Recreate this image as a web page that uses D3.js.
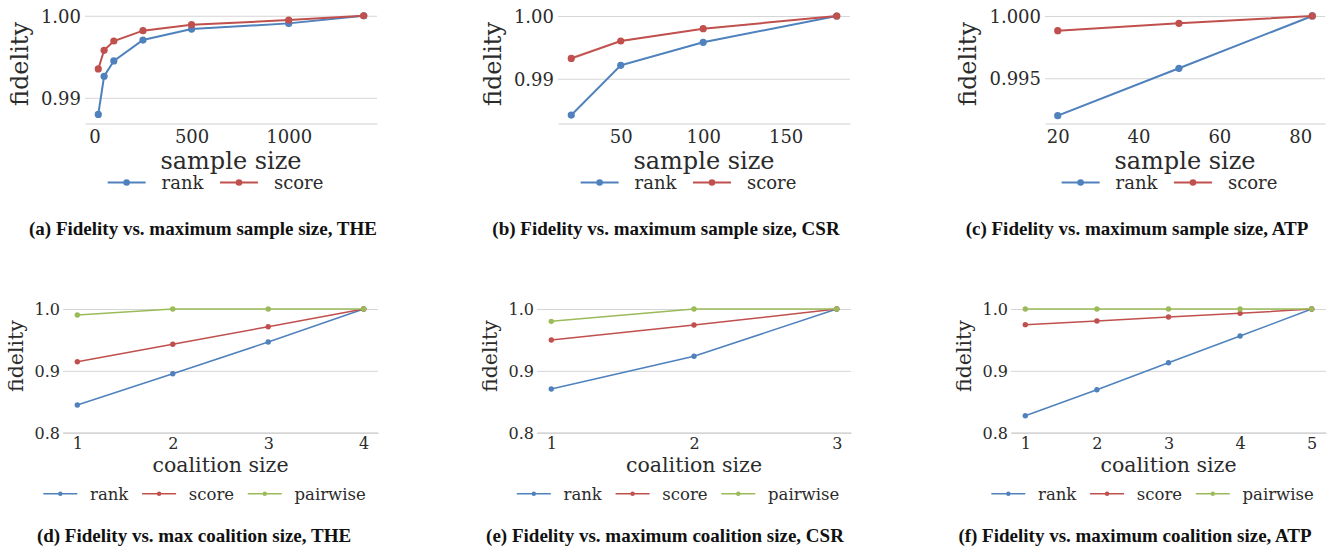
<!DOCTYPE html>
<meta charset="utf-8">
<head>
  <title>fidelity vs sample / coalition size</title>
</head>
<style>
  body { margin: 0; background: #fff; }
  text { font-family: "DejaVu Serif", "Liberation Serif", serif; fill: #2b2b2b; }
  .caption { font-family: "Liberation Serif", serif; font-weight: bold; fill: #111; }
</style>

<!-- Load d3.js -->
<script src="https://d3js.org/d3.v7.min.js"></script>

<div id="chart"></div>

<script>
  // ---- data ----
  // (a) THE, sample size
  var sampleTHE = [20, 50, 100, 250, 500, 1000, 1386];
  var rankTHE = [0.98798, 0.99263, 0.99449, 0.99704, 0.99838, 0.99907, 1.0];
  var scoreTHE = [0.99352, 0.99579, 0.99692, 0.99818, 0.99891, 0.99947, 1.0];
  var rankTHEci = [0.00012, 0.0001, 0.00008, 0.00006, 0.00004, 0.00003, 0];
  var scoreTHEci = [0.0001, 0.00008, 0.00006, 0.00004, 0.00003, 0.00002, 0];

  // (b) CSR, sample size
  var sampleCSR = [20, 50, 100, 181];
  var rankCSR = [0.98420, 0.99213, 0.99580, 1.0];
  var scoreCSR = [0.99324, 0.99601, 0.99798, 1.0];
  var rankCSRci = [0.0003, 0.0002, 0.00012, 0];
  var scoreCSRci = [0.0003, 0.00012, 0.00008, 0];

  // (c) ATP, sample size
  var sampleATP = [20, 50, 83];
  var rankATP = [0.99200, 0.99580, 1.0];
  var scoreATP = [0.99882, 0.99941, 1.0];
  var rankATPci = [0.00008, 0.00006, 0];
  var scoreATPci = [0.00003, 0.00002, 0];

  // (d) THE, coalition size
  var coalTHE = [1, 2, 3, 4];
  var cRankTHE = [0.8447, 0.8954, 0.9466, 1.0];
  var cScoreTHE = [0.9148, 0.9429, 0.9714, 1.0];
  var cPairTHE = [0.9903, 1.0, 1.0, 1.0];

  // (e) CSR, coalition size
  var coalCSR = [1, 2, 3];
  var cRankCSR = [0.8706, 0.9235, 1.0];
  var cScoreCSR = [0.9499, 0.9741, 1.0];
  var cPairCSR = [0.9800, 1.0, 1.0];

  // (f) ATP, coalition size
  var coalATP = [1, 2, 3, 4, 5];
  var cRankATP = [0.8275, 0.8695, 0.9132, 0.9563, 1.0];
  var cScoreATP = [0.9747, 0.9806, 0.9871, 0.9930, 1.0];
  var cPairATP = [1.0, 1.0, 1.0, 1.0, 1.0];

  var colors = { rank: "#4F81BD", score: "#C0504D", pairwise: "#9BBB59" };

  var captions = [
    "(a) Fidelity vs. maximum sample size, THE",
    "(b) Fidelity vs. maximum sample size, CSR",
    "(c) Fidelity vs. maximum sample size, ATP",
    "(d) Fidelity vs. max coalition size, THE",
    "(e) Fidelity vs. maximum coalition size, CSR",
    "(f) Fidelity vs. maximum coalition size, ATP"
  ];

  var serif = '"DejaVu Serif", "Liberation Serif", serif';
  var W = 1340, H = 548;
  var svg = d3.select("#chart").append("svg")
    .attr("width", W)
    .attr("height", H);

  // styles for the two rows
  var topStyle = { tick: 18, label: 24, legend: 18, lw: 2, r: 3.6, legR: 3.3,
    legLine: 38, legGap: 16, legSep: 16.5, xPad: 7.2, yPad: 4, yDy: "0.37em",
    xLabelY: 45, legendY: 59, legShift: -15.5 };
  var botStyle = { tick: 16, label: 20.5, legend: 16.5, lw: 1.5, r: 2.7, legR: 2.2,
    legLine: 34, legGap: 12.7, legSep: 13.7, xPad: 5, yPad: 3, yDy: "0.35em",
    xLabelY: 39.6, legendY: 61, legShift: -16 };

  var panels = [
    { x: sampleTHE, series: [["rank", rankTHE, rankTHEci], ["score", scoreTHE, scoreTHEci]],
      left: 85, right: 377, top: 4.5, bottom: 123.5, yDomain: [0.98687, 1.00137],
      yTicks: [0.99, 1.0], yFmt: ".2f", xTicks: [0, 500, 1000], xLabel: "sample size",
      st: topStyle, capX: 203, capY: 235 },
    { x: sampleCSR, series: [["rank", rankCSR, rankCSRci], ["score", scoreCSR, scoreCSRci]],
      left: 558, right: 850, top: 4.5, bottom: 123.5, yDomain: [0.98286, 1.00183],
      yTicks: [0.99, 1.0], yFmt: ".2f", xTicks: [50, 100, 150], xLabel: "sample size",
      st: topStyle, capX: 666, capY: 235 },
    { x: sampleATP, series: [["rank", rankATP, rankATPci], ["score", scoreATP, scoreATPci]],
      left: 1045, right: 1325, top: 4.5, bottom: 123.5, yDomain: [0.99137, 1.00092],
      yTicks: [0.995, 1.0], yFmt: ".3f", xTicks: [20, 40, 60, 80], xLabel: "sample size",
      st: topStyle, capX: 1137, capY: 235 },
    { x: coalTHE, series: [["rank", cRankTHE], ["score", cScoreTHE], ["pairwise", cPairTHE]],
      left: 63, right: 378, top: 279.5, bottom: 432.7, yDomain: [0.8, 1.0477],
      yTicks: [0.8, 0.9, 1.0], yFmt: ".1f", xTicks: [1, 2, 3, 4], xLabel: "coalition size",
      st: botStyle, capX: 194, capY: 542 },
    { x: coalCSR, series: [["rank", cRankCSR], ["score", cScoreCSR], ["pairwise", cPairCSR]],
      left: 537, right: 851, top: 279.5, bottom: 432.7, yDomain: [0.8, 1.0477],
      yTicks: [0.8, 0.9, 1.0], yFmt: ".1f", xTicks: [1, 2, 3], xLabel: "coalition size",
      st: botStyle, capX: 665, capY: 542 },
    { x: coalATP, series: [["rank", cRankATP], ["score", cScoreATP], ["pairwise", cPairATP]],
      left: 1011, right: 1326, top: 279.5, bottom: 432.7, yDomain: [0.8, 1.0477],
      yTicks: [0.8, 0.9, 1.0], yFmt: ".1f", xTicks: [1, 2, 3, 4, 5], xLabel: "coalition size",
      st: botStyle, capX: 1135, capY: 542 }
  ];

  panels.forEach(function(p, i) {
    var st = p.st;
    var g = svg.append("g");
    var width = p.right - p.left;

    // matplotlib style 5% margins on x
    var ext = d3.extent(p.x);
    var pad = (ext[1] - ext[0]) * 0.05;
    var x = d3.scaleLinear()
      .domain([ext[0] - pad, ext[1] + pad])
      .range([p.left, p.right]);
    var y = d3.scaleLinear()
      .domain(p.yDomain)
      .range([p.bottom, p.top]);

    // Y axis + horizontal grid
    var yAxis = g.append("g")
      .attr("transform", "translate(" + p.left + ",0)")
      .call(d3.axisLeft(y).tickValues(p.yTicks).tickFormat(d3.format(p.yFmt))
        .tickSize(-width).tickPadding(st.yPad));
    yAxis.attr("font-family", null);
    yAxis.select(".domain").remove();
    yAxis.selectAll("line").attr("stroke", "#d5d5d5").attr("stroke-width", 1);
    yAxis.selectAll("text")
      .attr("dy", st.yDy)
      .style("font-family", serif)
      .style("font-size", st.tick + "px")
      .attr("fill", "#2b2b2b");

    // X axis (bottom spine only)
    var xAxis = g.append("g")
      .attr("transform", "translate(0," + p.bottom + ")")
      .call(d3.axisBottom(x).tickValues(p.xTicks).tickFormat(d3.format("d"))
        .tickSize(0).tickPadding(st.xPad));
    xAxis.attr("font-family", null);
    xAxis.select(".domain").attr("stroke", "#d0d0d0").attr("stroke-width", 1.2);
    xAxis.selectAll("text")
      .style("font-family", serif)
      .style("font-size", st.tick + "px")
      .attr("fill", "#2b2b2b");

    // y label, placed left of the widest tick label
    var maxW = 0;
    yAxis.selectAll("text").each(function() {
      maxW = Math.max(maxW, this.getComputedTextLength());
    });
    var yLabX = p.left - st.yPad - maxW - (i < 3 ? 13 : 12);
    g.append("text")
      .attr("transform", "translate(" + yLabX + "," + ((p.top + p.bottom) / 2) + ") rotate(-90)")
      .style("text-anchor", "middle")
      .style("font-size", st.label + "px")
      .text("fidelity");

    // x label
    g.append("text")
      .attr("x", (p.left + p.right) / 2)
      .attr("y", p.bottom + st.xLabelY)
      .style("text-anchor", "middle")
      .style("font-size", st.label + "px")
      .text(p.xLabel);

    // confidence bands (top row only)
    p.series.forEach(function(s) {
      if (!s[2]) return;
      var area = d3.area()
        .x(function(d, j) { return x(p.x[j]); })
        .y0(function(d, j) { return y(d - s[2][j]); })
        .y1(function(d, j) { return y(d + s[2][j]); });
      g.append("path")
        .datum(s[1])
        .attr("d", area)
        .attr("fill", colors[s[0]])
        .attr("opacity", 0.2);
    });

    // lines and dots
    p.series.forEach(function(s) {
      var line = d3.line()
        .x(function(d, j) { return x(p.x[j]); })
        .y(function(d) { return y(d); });
      g.append("path")
        .datum(s[1])
        .attr("d", line)
        .attr("fill", "none")
        .attr("stroke", colors[s[0]])
        .attr("stroke-width", st.lw);
      g.append("g")
        .selectAll("circle")
        .data(s[1])
        .enter()
        .append("circle")
        .attr("cx", function(d, j) { return x(p.x[j]); })
        .attr("cy", function(d) { return y(d); })
        .attr("r", st.r)
        .attr("fill", colors[s[0]]);
    });

    // legend below the x label
    var leg = g.append("g");
    var cursor = 0;
    var ly = p.bottom + st.legendY;
    p.series.forEach(function(s, k) {
      if (k > 0) cursor += st.legSep;
      leg.append("line")
        .attr("x1", cursor).attr("x2", cursor + st.legLine)
        .attr("y1", ly).attr("y2", ly)
        .attr("stroke", colors[s[0]])
        .attr("stroke-width", st.lw);
      leg.append("circle")
        .attr("cx", cursor + st.legLine / 2)
        .attr("cy", ly)
        .attr("r", st.legR)
        .attr("fill", colors[s[0]]);
      cursor += st.legLine + st.legGap;
      var t = leg.append("text")
        .attr("x", cursor)
        .attr("y", ly)
        .attr("dy", "0.36em")
        .style("font-size", st.legend + "px")
        .text(s[0]);
      cursor += t.node().getComputedTextLength();
    });
    var cx = (p.left + p.right) / 2 + st.legShift;
    leg.attr("transform", "translate(" + (cx - cursor / 2) + ",0)");

    // caption
    svg.append("text")
      .attr("class", "caption")
      .attr("x", p.capX)
      .attr("y", p.capY)
      .style("text-anchor", "middle")
      .style("font-size", "19px")
      .text(captions[i]);
  });
</script>
